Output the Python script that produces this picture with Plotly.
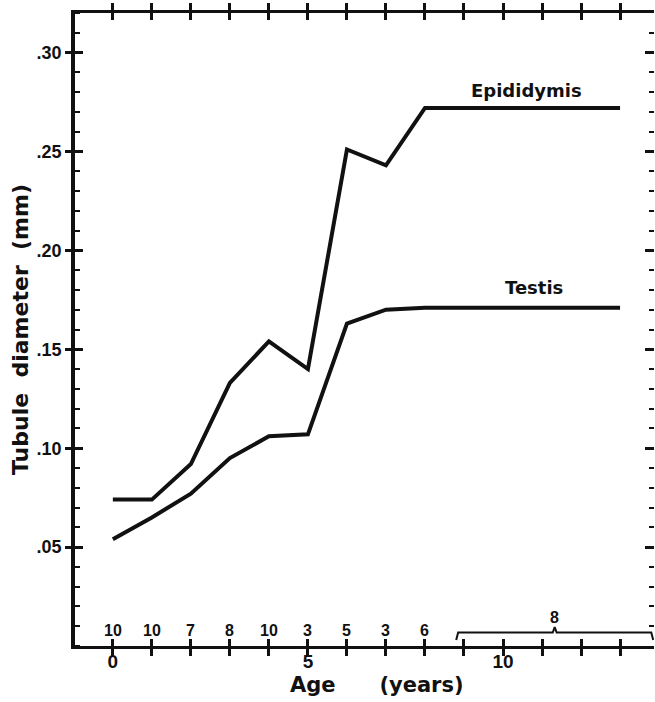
import plotly.graph_objects as go

# Mean tubule diameter (mm) by age (years)
ages = [0, 1, 2, 3, 4, 5, 6, 7, 8, 13]
epididymis = [0.074, 0.074, 0.092, 0.133, 0.154, 0.140, 0.251, 0.243, 0.272, 0.272]
testis = [0.054, 0.065, 0.077, 0.095, 0.106, 0.107, 0.163, 0.170, 0.171, 0.171]

# Number of animals at each age
n_ages = [0, 1, 2, 3, 4, 5, 6, 7, 8]
n_counts = [10, 10, 7, 8, 10, 3, 5, 3, 6]
# Older animals pooled into one group
group_span = (8.8, 13.85)
group_n = 8

y_ticks = [0.05, 0.10, 0.15, 0.20, 0.25, 0.30]
y_labels = [".05", ".10", ".15", ".20", ".25", ".30"]
x_ticks = list(range(0, 14))
x_labels = {0: "0", 5: "5", 10: "10"}

NUM_FONT = "Liberation Sans, Arial, sans-serif"
TXT_FONT = "DejaVu Sans, Verdana, sans-serif"
INK = "#111111"
NBSP = "\u00a0"
x_range = [-0.97, 13.87]
y_range = [0, 0.32]

fig = go.Figure()

fig.add_trace(go.Scatter(x=ages, y=epididymis, mode="lines",
                         line=dict(color=INK, width=4), showlegend=False))
fig.add_trace(go.Scatter(x=ages, y=testis, mode="lines",
                         line=dict(color=INK, width=4), showlegend=False))

# Bracket over the pooled older group
lo, hi = group_span
mid = (lo + hi) / 2
base, bar, peak = 0.003, 0.0068, 0.0095
fig.add_trace(go.Scatter(
    x=[lo, lo + 0.05, mid - 0.05, mid, mid + 0.05, hi - 0.05, hi],
    y=[base, bar, bar, peak, bar, bar, base],
    mode="lines", line=dict(color=INK, width=2), showlegend=False))

# Empty traces that bring the extra tick-only axes into the plot
fig.add_trace(go.Scatter(x=[None], y=[None], yaxis="y2", showlegend=False))
fig.add_trace(go.Scatter(x=[None], y=[None], yaxis="y3", showlegend=False))

num_font = dict(family=NUM_FONT, size=16, color=INK, weight="bold")
for a, n in zip(n_ages, n_counts):
    fig.add_annotation(x=a, y=0.0078, text=str(n), showarrow=False,
                       font=num_font, xanchor="center", yanchor="middle")
fig.add_annotation(x=mid, y=0.0145, text=str(group_n), showarrow=False,
                   font=num_font, xanchor="center", yanchor="middle")

lab_font = dict(family=TXT_FONT, size=18, color=INK, weight="bold")
fig.add_annotation(x=10.6, y=epididymis[-1] + 0.009, text="Epididymis",
                   showarrow=False, font=lab_font, xanchor="center", yanchor="middle")
fig.add_annotation(x=10.8, y=testis[-1] + 0.010, text="Testis",
                   showarrow=False, font=lab_font, xanchor="center", yanchor="middle")

# Axis titles
fig.add_annotation(xref="paper", yref="paper", x=0.5216, y=-0.062,
                   text="Age" + NBSP * 6 + "(years)", showarrow=False,
                   font=dict(family=TXT_FONT, size=21, color=INK, weight="bold"),
                   xanchor="center", yanchor="middle")
fig.add_annotation(xref="paper", yref="paper", x=-0.0933, y=0.5008,
                   text="Tubule" + NBSP * 2 + "diameter" + NBSP * 2 + "(mm)",
                   textangle=-90, showarrow=False,
                   font=dict(family=TXT_FONT, size=22, color=INK, weight="bold"),
                   xanchor="center", yanchor="middle")

fig.update_layout(
    width=655, height=702,
    margin=dict(l=75, r=1, t=13, b=56),
    paper_bgcolor="white", plot_bgcolor="white",
    font=dict(family=NUM_FONT, color=INK),
    xaxis=dict(
        range=x_range, showgrid=False, zeroline=False,
        showline=True, linecolor=INK, linewidth=3, mirror="allticks",
        tickmode="array", tickvals=x_ticks,
        ticktext=[x_labels.get(t, "") for t in x_ticks],
        ticks="inside", ticklen=7, tickwidth=2.5, tickcolor=INK,
        ticklabelstandoff=-4,
        tickfont=dict(family=NUM_FONT, size=19, color=INK, weight="bold"),
    ),
    yaxis=dict(
        range=y_range, showgrid=False, zeroline=False,
        showline=True, linecolor=INK, linewidth=3.5,
        tickmode="array", tickvals=y_ticks, ticktext=y_labels,
        ticks="outside", ticklen=6, tickwidth=2.5, tickcolor=INK,
        minor=dict(tickmode="linear", tick0=0, dtick=0.01, ticks="inside",
                   ticklen=5, tickwidth=2, tickcolor=INK),
        tickfont=dict(family=NUM_FONT, size=18, color=INK, weight="bold"),
    ),
    yaxis2=dict(
        range=y_range, overlaying="y", side="right", anchor="x",
        showgrid=False, zeroline=False, showline=False, showticklabels=False,
        tickmode="array", tickvals=y_ticks,
        ticks="inside", ticklen=9, tickwidth=2.5, tickcolor=INK,
        minor=dict(tickmode="linear", tick0=0, dtick=0.01, ticks="inside",
                   ticklen=5, tickwidth=2, tickcolor=INK),
    ),
    yaxis3=dict(
        range=y_range, overlaying="y", side="left", anchor="x",
        showgrid=False, zeroline=False, showline=False, showticklabels=False,
        tickmode="array", tickvals=y_ticks,
        ticks="inside", ticklen=8, tickwidth=2.5, tickcolor=INK,
    ),
)

fig.write_html("out.html")
